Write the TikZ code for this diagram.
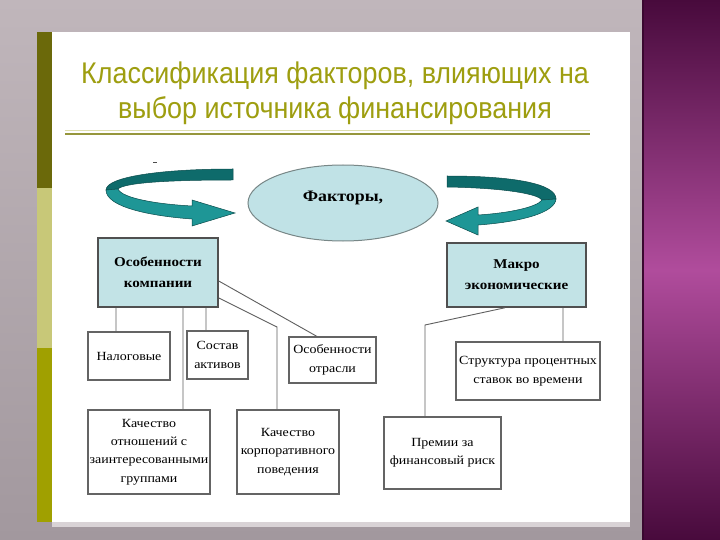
\documentclass[tikz,border=0pt]{standalone}
\usepackage{fontspec}
\setmainfont{Liberation Serif}[FakeStretch=1.12]
\newfontfamily\titlefont{Liberation Sans}[FakeStretch=0.9]
\usetikzlibrary{shapes.geometric,calc}
\definecolor{bgtop}{RGB}{192,182,187}
\definecolor{bgbot}{RGB}{162,152,158}
\definecolor{pdark}{RGB}{72,10,60}
\definecolor{pmid}{RGB}{176,76,156}
\definecolor{olivedark}{RGB}{107,105,10}
\definecolor{olivelight}{RGB}{200,200,120}
\definecolor{olivemid}{RGB}{160,160,0}
\definecolor{titlec}{RGB}{158,158,16}
\definecolor{rulec}{RGB}{150,150,60}
\definecolor{boxfill}{RGB}{194,227,230}
\definecolor{boxedge}{RGB}{80,80,80}
\definecolor{wedge}{RGB}{100,100,100}
\definecolor{linec}{RGB}{95,95,95}
\definecolor{tealdark}{RGB}{14,107,107}
\definecolor{tealmid}{RGB}{30,150,150}
\definecolor{tealedge}{RGB}{10,75,75}
\definecolor{ellfill}{RGB}{192,226,230}
\definecolor{elledge}{RGB}{120,135,135}
\begin{document}
\begin{tikzpicture}[x=1bp,y=-1bp,
  hbox/.style={draw=boxedge, line width=1.5bp, fill=boxfill, inner sep=0pt, align=center,
    font=\fontsize{13.5}{21}\selectfont\bfseries},
  wbox/.style={draw=wedge, line width=1.1bp, fill=white, inner sep=0pt, align=center,
    font=\fontsize{12.5}{18.5}\selectfont},
  conn/.style={draw=linec, line width=0.9bp},
  ribback/.style={fill=tealdark, draw=tealedge, line width=0.5bp},
  ribfront/.style={fill=tealmid, draw=tealedge, line width=0.5bp}]
\useasboundingbox (0,0) rectangle (720,540);
% background
\shade[top color=bgtop, bottom color=bgbot] (0,0) rectangle (642,540);
\shade[top color=pdark, bottom color=pdark, middle color=pmid] (642,0) rectangle (720,540);
\fill[pdark!80!black] (642,0) rectangle (644,540);
% slide
\fill[bgtop!60!white] (52,522) rectangle (630,527);
\fill[white] (52,32) rectangle (630,522);
\fill[olivedark] (37,32) rectangle (52,188);
\fill[olivelight] (37,188) rectangle (52,348);
\fill[olivemid] (37,348) rectangle (52,522);
% title
\node[font=\titlefont\fontsize{30}{35}\selectfont, text=titlec, align=center] (title) at (335,93)
  {Классификация факторов, влияющих на\\выбор источника финансирования};
\draw[olivelight!60, line width=1bp] (65,131) -- (590,131);
\draw[rulec, line width=2bp] (65,134) -- (590,134);
\draw[black!70, line width=1bp] (153,163) -- (157,163);
% ellipse
\node[ellipse, draw=elledge, line width=1bp, fill=ellfill, minimum width=190bp, minimum height=76bp] (fak) at (343,203) {};
\node[font=\fontsize{16}{18}\selectfont\bfseries] (faktxt) at ([yshift=5bp]fak.center) {Факторы,};
% left ribbon
\path[ribback] (233,169) .. controls (160,169) and (106,177) .. (106,190) -- (118,189)
  .. controls (124,183) and (165,180) .. (233,180) -- cycle;
\path[ribfront] (106,190) .. controls (106,207) and (150,216) .. (192,219) -- (192,226) -- (235,213)
  -- (192,200) -- (192,206) .. controls (155,204) and (122,198) .. (118,189) -- cycle;
% right ribbon
\path[ribback] (447,176) .. controls (515,176) and (556,184) .. (556,199) -- (542,200)
  .. controls (538,194) and (505,188) .. (447,187) -- cycle;
\path[ribfront] (556,199) .. controls (555,213) and (520,222) .. (478,225) -- (478,235) -- (446,221)
  -- (478,207) -- (478,215) .. controls (510,213) and (537,207) .. (542,200) -- cycle;
% boxes
\node[hbox, minimum width=120bp, minimum height=69bp] (comp) at (158,272.5) {Особенности\\компании};
\node[hbox, minimum width=139bp, minimum height=64bp] (macro) at (516.5,275) {Макро\\экономические};
\node[wbox, minimum width=82bp, minimum height=48bp] (nalog) at (129,356) {Налоговые};
\node[wbox, minimum width=61bp, minimum height=48bp] (sostav) at (217.5,355) {Состав\\активов};
\node[wbox, minimum width=87bp, minimum height=46bp] (otrasl) at (332.5,360) {Особенности\\отрасли};
\node[wbox, minimum width=122bp, minimum height=84bp] (kach1) at (149,452) {Качество\\отношений с\\заинтересованными\\группами};
\node[wbox, minimum width=102bp, minimum height=84bp] (kach2) at (288,452) {Качество\\корпоративного\\поведения};
\node[wbox, minimum width=144bp, minimum height=58bp] (strukt) at (528,371) {Структура процентных\\ставок во времени};
\node[wbox, minimum width=117bp, minimum height=72bp] (premii) at (442.5,453) {Премии за\\финансовый риск};
% connectors
\coordinate (b2) at (277,327);
\coordinate (b3) at (425,325);
\draw[conn] ([xshift=-42bp]comp.south) -- ([xshift=-13bp]nalog.north);
\draw[conn] ([xshift=48bp]comp.south) -- ([xshift=-11.5bp]sostav.north);
\draw[conn] ([xshift=25bp]comp.south) -- ([xshift=34bp]kach1.north);
\draw[conn] ([yshift=-8.5bp]comp.east) -- ([xshift=-15.5bp]otrasl.north);
\draw[conn] ([yshift=-25.5bp]comp.east) -- (b2) -- ([xshift=-11bp]kach2.north);
\draw[conn] ([xshift=-11.5bp]macro.south) -- (b3) -- ([xshift=-17.5bp]premii.north);
\draw[conn] ([xshift=46.5bp]macro.south) -- ([xshift=35bp]strukt.north);
\end{tikzpicture}
\end{document}
